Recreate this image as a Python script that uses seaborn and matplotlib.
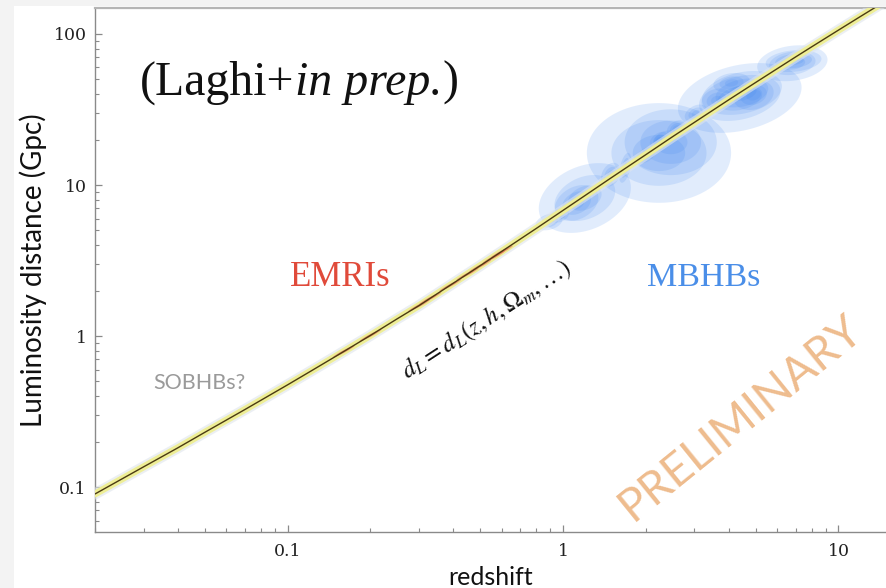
import numpy as np
import matplotlib
matplotlib.use("Agg")
import matplotlib.pyplot as plt
from matplotlib.ticker import LogLocator, FixedLocator, FixedFormatter, NullFormatter
from matplotlib.patches import Rectangle
import seaborn as sns

# Fiducial luminosity-distance relation, d_L in Gpc
z_curve = [0.02, 0.03, 0.04, 0.05, 0.07, 0.1, 0.12, 0.15, 0.2, 0.25, 0.3, 0.4,
           0.5, 0.6, 0.8, 1.0, 1.2, 1.5, 2.0, 2.5, 3.0, 4.0, 5.0, 6.0, 7.0,
           8.0, 10.0, 12.0, 15.0]
dl_curve = [0.090, 0.136, 0.182, 0.230, 0.326, 0.475, 0.578, 0.736, 1.01, 1.30,
            1.59, 2.24, 2.92, 3.64, 5.16, 6.79, 8.50, 11.2, 15.9, 20.9, 26.0,
            36.7, 47.7, 59.0, 70.6, 82.3, 106.1, 130.4, 167.4]

# EMRI posteriors (centre redshift, centre distance in Gpc)
emri_z = [0.16, 0.20, 0.30, 0.33, 0.39, 0.45, 0.50, 0.56, 0.60]
emri_dl = [0.79, 1.01, 1.59, 1.78, 2.17, 2.57, 2.91, 3.33, 3.62]

# MBHB posteriors: centre z, centre d_L (Gpc), spread in log10 z,
# spread in log10 d_L, correlation
mbhb_z = [0.89, 1.12, 1.20, 0.97, 1.68, 1.49, 2.23, 2.46, 2.00, 2.23,
          2.57, 3.03, 4.38, 4.46, 4.09, 4.92, 3.61, 6.87, 6.80]
mbhb_dl = [5.69, 7.6, 8.2, 6.3, 13.0, 11.7, 16.3, 19.2, 15.8, 19.9,
           23.8, 29.9, 37.7, 40.7, 47.4, 39.4, 36.5, 66.2, 64.0]
mbhb_slz = [0.022, 0.036, 0.076, 0.016, 0.010, 0.016, 0.119, 0.076, 0.015, 0.015,
            0.015, 0.018, 0.102, 0.066, 0.030, 0.033, 0.025, 0.046, 0.058]
mbhb_sldl = [0.025, 0.054, 0.105, 0.022, 0.045, 0.036, 0.150, 0.099, 0.024, 0.024,
             0.024, 0.026, 0.105, 0.066, 0.030, 0.045, 0.035, 0.033, 0.054]
mbhb_rho = [0.3, 0.3, 0.3, 0.3, 0.5, 0.3, 0.0, 0.0, 0.4, 0.4,
            0.4, 0.4, 0.3, 0.3, 0.2, 0.2, 0.2, 0.2, 0.2]

sns.set_theme(style="white")
plt.rcParams["mathtext.fontset"] = "stix"

fig = plt.figure(figsize=(8.87, 5.88), dpi=100, facecolor="#f3f3f3")
fig.add_artist(Rectangle((14 / 887, 0), 1, (588 - 6) / 588, transform=fig.transFigure,
                         facecolor="white", edgecolor="none", zorder=-5))
ax = fig.add_axes([95 / 887, 56 / 588, (887 - 95) / 887, (532 - 8) / 588])
ax.patch.set_alpha(0)
ax.set_xscale("log")
ax.set_yscale("log")
ax.set_xlim(0.02, 15)
ax.set_ylim(0.0504, 148.6)


def draw_posterior(ax, zc, dc, slz, sld, rho, color, radii, alpha, zorder, npts=140):
    lz = np.linspace(np.log10(zc) - 3.2 * slz, np.log10(zc) + 3.2 * slz, npts)
    ld = np.linspace(np.log10(dc) - 3.2 * sld, np.log10(dc) + 3.2 * sld, npts)
    LZ, LD = np.meshgrid(lz, ld)
    u = (LZ - np.log10(zc)) / slz
    v = (LD - np.log10(dc)) / sld
    q = (u ** 2 - 2 * rho * u * v + v ** 2) / (1 - rho ** 2)
    dens = np.exp(-0.5 * q)
    for r in radii:
        ax.contourf(10 ** LZ, 10 ** LD, dens, levels=[np.exp(-0.5 * r ** 2), 1.1],
                    colors=[color], alpha=alpha, antialiased=True, zorder=zorder)


# MBHB credible regions
for zc, dc, sz, sd, rh in zip(mbhb_z, mbhb_dl, mbhb_slz, mbhb_sldl, mbhb_rho):
    draw_posterior(ax, zc, dc, sz, sd, rh, "#3b84f0", radii=(2.2, 1.45, 0.8),
                   alpha=0.15, zorder=2)

# d_L(z) relation with its uncertainty band
sns.lineplot(x=z_curve, y=dl_curve, ax=ax, color="#dfe5ec", lw=8, alpha=0.6, zorder=3)
sns.lineplot(x=z_curve, y=dl_curve, ax=ax, color="#eeee96", lw=5, zorder=4)

# EMRI credible regions, sitting on the band
for zc, dc in zip(emri_z, emri_dl):
    draw_posterior(ax, zc, dc, 0.02, 0.02, 0.97, "#e8604c", radii=(2.0, 1.2),
                   alpha=0.5, zorder=4.5)

sns.lineplot(x=z_curve, y=dl_curve, ax=ax, color="#4a3a12", lw=1.0, zorder=5)

# Axes styling
for side in ("left", "bottom", "top"):
    ax.spines[side].set_visible(True)
    ax.spines[side].set_color("#8a8a8a")
    ax.spines[side].set_linewidth(1.0)
ax.spines["top"].set_color("#b5b5b5")
ax.spines["top"].set_linewidth(1.6)
ax.spines["right"].set_visible(False)

ax.xaxis.set_major_locator(FixedLocator([0.1, 1, 10]))
ax.xaxis.set_major_formatter(FixedFormatter(["0.1", "1", "10"]))
ax.yaxis.set_major_locator(FixedLocator([0.1, 1, 10, 100]))
ax.yaxis.set_major_formatter(FixedFormatter(["0.1", "1", "10", "100"]))
ax.xaxis.set_minor_locator(LogLocator(base=10, subs=np.arange(2, 10), numticks=20))
ax.yaxis.set_minor_locator(LogLocator(base=10, subs=np.arange(2, 10), numticks=20))
ax.xaxis.set_minor_formatter(NullFormatter())
ax.yaxis.set_minor_formatter(NullFormatter())
ax.tick_params(which="both", direction="in", color="#8a8a8a", top=False, right=False,
               bottom=True, left=True)
ax.tick_params(which="major", length=5, width=0.9, labelsize=12.5, labelcolor="#222222")
ax.tick_params(axis="x", which="major", pad=8)
ax.tick_params(axis="y", which="major", pad=6)
ax.tick_params(which="minor", length=3, width=0.8)
for lab in ax.get_xticklabels() + ax.get_yticklabels():
    lab.set_family("DejaVu Serif")

ax.set_xlabel("redshift", family="Lato", fontsize=18, color="#111111", labelpad=4)
ax.set_ylabel("Luminosity distance (Gpc)", family="Lato", fontsize=20, color="#111111",
              labelpad=5)

# Citation note: upright / italic / upright pieces placed side by side
fig.canvas.draw()
renderer = fig.canvas.get_renderer()
x_cursor = 0.057
for piece, style in (("(Laghi+", "normal"), ("in prep.", "italic"), (")", "normal")):
    t = ax.text(x_cursor, 0.857, piece, transform=ax.transAxes, family="Liberation Serif",
                style=style, fontsize=34.5, color="#111111", ha="left", va="center")
    bb = t.get_window_extent(renderer).transformed(ax.transAxes.inverted())
    x_cursor = bb.x1

ax.text(0.31, 0.485, "EMRIs", transform=ax.transAxes, family="Liberation Serif",
        fontsize=25, color="#e04a3a", ha="center", va="center")
ax.text(0.769, 0.485, "MBHBs", transform=ax.transAxes, family="Liberation Serif",
        fontsize=24.5, color="#4a8ee8", ha="center", va="center")
ax.text(0.132, 0.285, "SOBHBs?", transform=ax.transAxes, family="Lato",
        fontsize=15.5, color="#9a9a9a", ha="center", va="center")
ax.text(0.495, 0.405, r"$d_L = d_L(z, h, \Omega_m, \ldots)$", transform=ax.transAxes,
        fontsize=18, color="#111111", ha="center", va="center", rotation=33,
        rotation_mode="anchor")
ax.text(0.815, 0.217, "PRELIMINARY", transform=ax.transAxes, family="Lato",
        fontsize=33, color="#eebc8e", ha="center", va="center", rotation=39,
        rotation_mode="anchor", zorder=6)

fig.savefig("out.png", dpi=100, facecolor=fig.get_facecolor())
